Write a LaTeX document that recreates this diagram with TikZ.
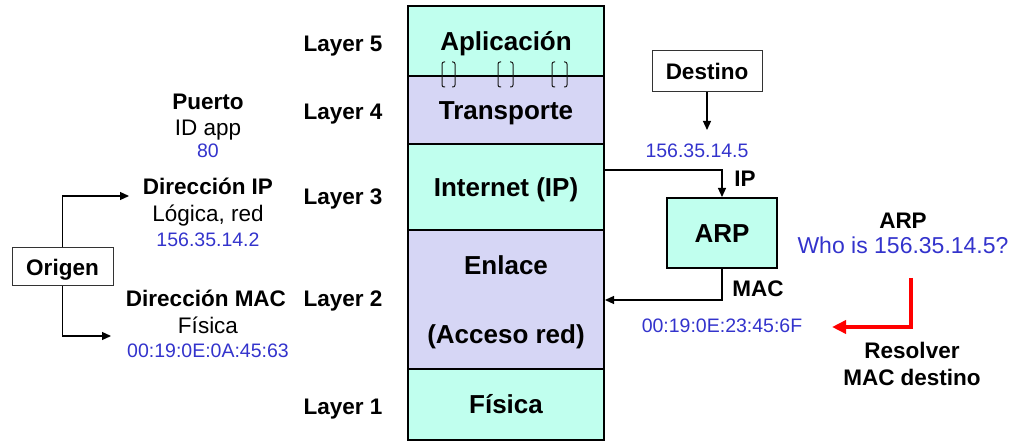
\documentclass[tikz,border=0pt]{standalone}
\usepackage{fontspec}
\setmainfont{Liberation Sans}
\usetikzlibrary{arrows.meta}
\definecolor{aqua}{RGB}{192,255,238}
\definecolor{lav}{RGB}{214,214,245}
\definecolor{txtblue}{RGB}{51,51,204}
\begin{document}
\begin{tikzpicture}[x=1pt,y=-1pt,
  big/.style={font=\fontsize{26}{31}\selectfont\bfseries,text height=18.6pt,text depth=0pt},
  layer/.style={big,draw=black,line width=2pt,minimum width=196pt,inner sep=0pt},
  lbl/.style={font=\fontsize{22.5}{27}\selectfont\bfseries,text height=16.1pt,text depth=0pt,inner sep=0pt},
  reg/.style={font=\fontsize{22.5}{27}\selectfont,text height=16.1pt,text depth=0pt,inner sep=0pt},
  num/.style={font=\fontsize{19.5}{23}\selectfont,text=txtblue,text height=14pt,text depth=0pt,inner sep=0pt},
  who/.style={font=\fontsize{23}{27}\selectfont,text=txtblue,text height=16.5pt,text depth=0pt,inner sep=0pt},
  thinbox/.style={draw=black!80,line width=1pt,inner sep=0pt,font=\fontsize{22.5}{27}\selectfont\bfseries,text height=16.1pt,text depth=0pt},
  conn/.style={line width=1.2pt,-{Triangle[length=9pt,width=8pt]}},
  brk/.style={draw=black!90,line width=1pt,rounded corners=2pt},
]
\useasboundingbox (0,0) rectangle (1015,446);

% protocol stack
\node[layer,fill=aqua,minimum height=70pt] (apl) at (506,41) {Aplicación};
\node[layer,fill=lav,minimum height=68pt] (tra) at (506,110) {Transporte};
\node[layer,fill=aqua,minimum height=86pt] (int) at (506,187) {Internet (IP)};
\node[layer,fill=lav,minimum height=139pt,align=center,font=\fontsize{26}{69}\selectfont\bfseries,text height=,text depth=0pt] (enl) at (506,300) {Enlace\\(Acceso red)};
\node[layer,fill=aqua,minimum height=71pt] (fis) at (506,404.5) {Física};

% ports (brackets)
\foreach \a/\b in {442/455,498/513,552/567}{
  \draw[brk] (\a+3,62) -| (\a,87) -- (\a+3,87);
  \draw[brk] (\b-3,62) -| (\b,87) -- (\b-3,87);
}

% layer labels
\node[lbl] (l5) at (343,43) {Layer 5};
\node[lbl] (l4) at (343,111) {Layer 4};
\node[lbl] (l3) at (343,196) {Layer 3};
\node[lbl] (l2) at (343,298) {Layer 2};
\node[lbl] (l1) at (343,406) {Layer 1};

% left column
\node[lbl] (pto) at (208,101) {Puerto};
\node[reg] (idapp) at (208,127) {ID app};
\node[num] (p80) at (208,151) {80};
\node[lbl] (dip) at (208,186) {Dirección IP};
\node[reg] (log) at (208,213) {Lógica, red};
\node[num] (ipo) at (208,240) {156.35.14.2};
\node[lbl] (dmac) at (206,298) {Dirección MAC};
\node[reg] (fisica) at (208,325) {Física};
\node[num] (maco) at (208,351) {00:19:0E:0A:45:63};

\node[thinbox,minimum width=101pt,minimum height=38pt] (org) at (62.5,267) {Origen};
\coordinate (ipEnd) at (129,196);
\coordinate (macEnd) at (111,336);
\draw[conn] (org.north) |- (ipEnd);
\draw[conn] (org.south) |- (macEnd);

% right side
\node[thinbox,minimum width=110pt,minimum height=41pt] (dst) at (707,71.5) {Destino};
\coordinate (dstEnd) at (707,130);
\draw[conn] (dst.south) -- (dstEnd);
\node[num] (ipd) at (697,151) {156.35.14.5};

\node[big,draw=black,line width=2pt,fill=aqua,minimum width=110pt,minimum height=70pt,inner sep=0pt] (arp) at (722,233) {ARP};
\draw[conn] ([yshift=17pt]int.east) -| (arp.north);
\node[lbl] (iplbl) at (745,178) {IP};
\draw[conn] (arp.south) |- (enl.east);
\node[lbl] (maclbl) at (758,288) {MAC};
\node[num] (macd) at (722,326) {00:19:0E:23:45:6F};

\node[lbl] (arpt) at (903,220) {ARP};
\node[who] (whois) at (903,245) {Who is 156.35.14.5?};
\coordinate (redStart) at (911,278);
\coordinate (redEnd) at (832,327);
\draw[red,line width=3.5pt,-{Triangle[length=14pt,width=13pt]}] (redStart) |- (redEnd);
\node[lbl,align=center,text height=,text depth=0pt] (res) at (912,363.5) {Resolver\\MAC destino};
\end{tikzpicture}
\end{document}
